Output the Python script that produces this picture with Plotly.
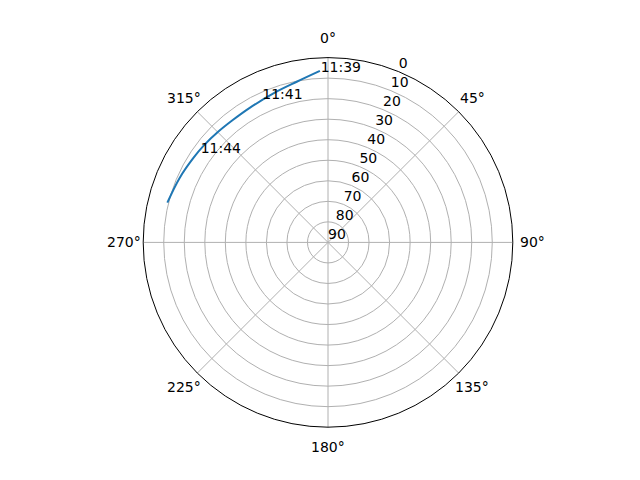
import math
import plotly.graph_objects as go

# satellite pass: azimuth (deg) and elevation (deg)
azimuth = [357.3, 349.0, 339.9, 329.8, 322.1, 315.3, 308.0, 302.0, 293.4, 283.9]
elevation = [6.4, 10.3, 12.7, 14.2, 14.5, 14.1, 13.3, 12.6, 11.2, 9.4]

time_labels = ["11:39", "11:41", "11:44"]
label_az = [357.5, 334.9, 303.9]
label_el = [8.4, 14.6, 15.3]

radial_ticks = [0, 10, 20, 30, 40, 50, 60, 70, 80, 90]
radial_label_angle = 22.5
angular_ticks = [0, 45, 90, 135, 180, 225, 270, 315]

FONT = dict(family="DejaVu Sans", size=14, color="black")

W, H = 640, 480
DOM_X = [72 / W, 568 / W]
DOM_Y = [60.8 / H, 430.4 / H]

fig = go.Figure()
fig.add_trace(go.Scatterpolar(
    theta=azimuth, r=elevation, mode="lines",
    line=dict(color="#1f77b4", width=2, shape="spline", smoothing=1),
    showlegend=False, hoverinfo="skip"))
fig.add_trace(go.Scatterpolar(
    theta=label_az, r=label_el, mode="text", text=time_labels,
    textposition="top right", textfont=FONT, cliponaxis=False,
    showlegend=False, hoverinfo="skip"))
# radial tick labels (matplotlib style, along 22.5 deg)
fig.add_trace(go.Scatterpolar(
    theta=[radial_label_angle] * len(radial_ticks), r=radial_ticks, mode="text",
    text=[str(t) for t in radial_ticks],
    textposition="top right", textfont=FONT, cliponaxis=False,
    showlegend=False, hoverinfo="skip"))

# angular tick labels just outside the outer circle
cx = (DOM_X[0] + DOM_X[1]) / 2
cy = (DOM_Y[0] + DOM_Y[1]) / 2
radius_px = min((DOM_X[1] - DOM_X[0]) * W, (DOM_Y[1] - DOM_Y[0]) * H) / 2
label_px = radius_px + 19.5
annotations = []
for a in angular_ticks:
    rad = math.radians(a)
    annotations.append(dict(
        x=cx + label_px * math.sin(rad) / W,
        y=cy + label_px * math.cos(rad) / H,
        xref="paper", yref="paper", text=f"{a}°", showarrow=False,
        xanchor="center", yanchor="middle", font=FONT))

fig.update_layout(
    width=W, height=H,
    margin=dict(l=0, r=0, t=0, b=0),
    paper_bgcolor="white",
    font=FONT,
    annotations=annotations,
    polar=dict(
        domain=dict(x=DOM_X, y=DOM_Y),
        bgcolor="white",
        angularaxis=dict(
            rotation=90, direction="clockwise",
            tickmode="array", tickvals=angular_ticks,
            showticklabels=False,
            showline=True, linecolor="black", linewidth=1,
            gridcolor="#b0b0b0", gridwidth=1, ticks="",
        ),
        radialaxis=dict(
            range=[90, 0], tickmode="array", tickvals=radial_ticks,
            showticklabels=False,
            angle=67.5, showline=False, ticks="",
            gridcolor="#b0b0b0", gridwidth=1,
        ),
    ),
)
fig.write_html("out.html")
